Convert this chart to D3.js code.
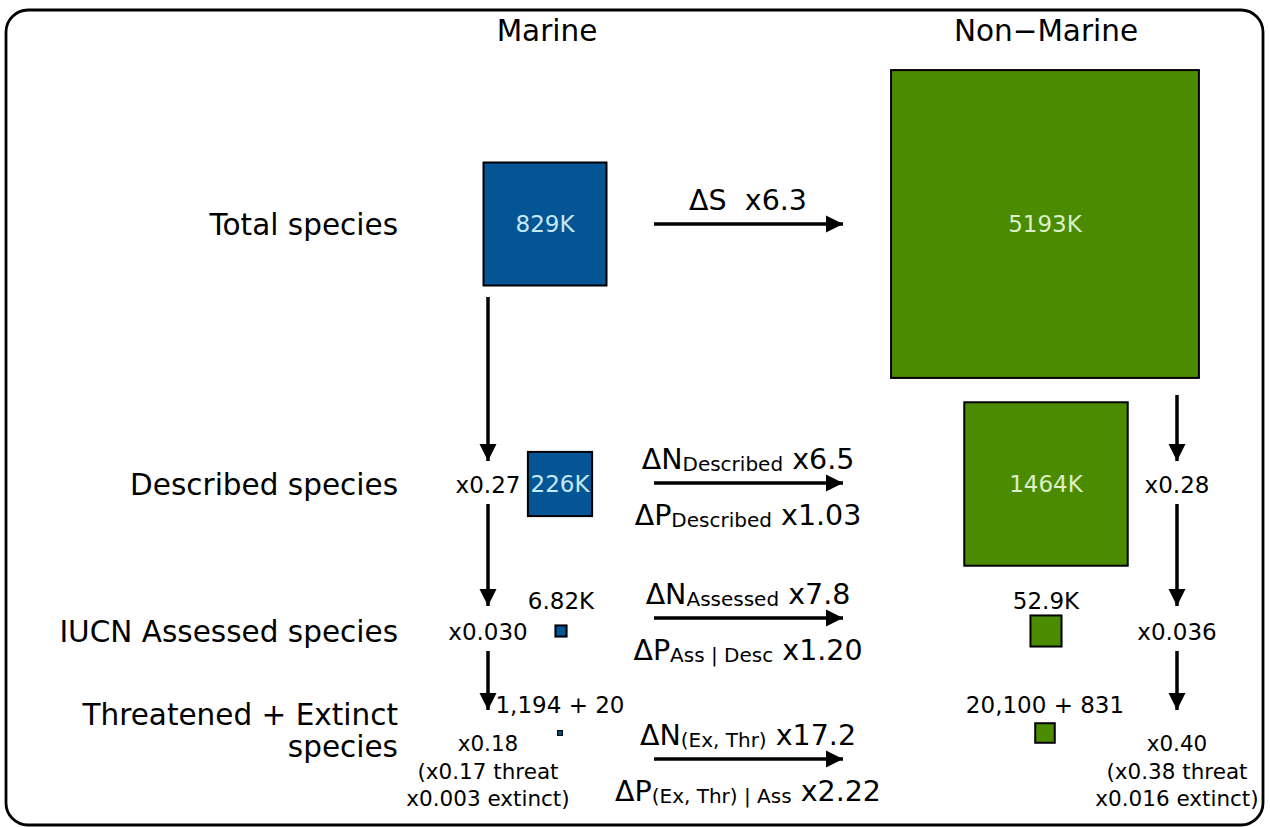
<!DOCTYPE html>
<html lang="en">
<head>
  <meta charset="UTF-8">
  <title>Marine vs Non-Marine species</title>
  <script src="https://cdn.jsdelivr.net/npm/d3@7"></script>
  <style>
    body { margin: 0; background: #fff; }
    text { font-family: "DejaVu Sans", sans-serif; }
  </style>
</head>
<body>
<svg></svg>
<script>
  const width = 1270, height = 827

  // data
  const columns = ['Marine', 'Non\u2212Marine']
  const rows = ['Total species', 'Described species', 'IUCN Assessed species', 'Threatened + Extinct|species']
  const marineCounts = [829000, 226000, 6820, 1214]
  const nonMarineCounts = [5193000, 1464000, 52900, 20931]
  const marineLabels = ['829K', '226K', '6.82K', '1,194 + 20']
  const nonMarineLabels = ['5193K', '1464K', '52.9K', '20,100 + 831']
  const marineRatios = [['x0.27'], ['x0.030'], ['x0.18', '(x0.17 threat', 'x0.003 extinct)']]
  const nonMarineRatios = [['x0.28'], ['x0.036'], ['x0.40', '(x0.38 threat', 'x0.016 extinct)']]
  // horizontal arrow labels: [main, subscript, factor]
  const deltaTop = [['\u0394S', '', ' x6.3'], ['\u0394N', 'Described', ' x6.5'], ['\u0394N', 'Assessed', ' x7.8'], ['\u0394N', '(Ex, Thr)', ' x17.2']]
  const deltaBottom = [null, ['\u0394P', 'Described', ' x1.03'], ['\u0394P', 'Ass | Desc', ' x1.20'], ['\u0394P', '(Ex, Thr) | Ass', ' x2.22']]

  const colors = {Marine: '#035594', NonMarine: '#4b8b00'}
  const textColors = {Marine: '#c6e8f8', NonMarine: '#dcefc8'}

  const svg = d3.select('svg')
      .attr('width', width)
      .attr('height', height)
      .attr('viewBox', [0, 0, width, height])

  svg.append('defs').append('marker')
      .attr('id', 'head')
      .attr('viewBox', '0 0 10 10')
      .attr('refX', 10).attr('refY', 5)
      .attr('markerUnits', 'userSpaceOnUse')
      .attr('markerWidth', 17).attr('markerHeight', 18)
      .attr('orient', 'auto')
    .append('path')
      .attr('d', 'M0,0L10,5L0,10Z')
      .attr('fill', '#000')

  // rounded frame
  svg.append('rect')
      .attr('x', 6).attr('y', 10)
      .attr('width', 1257).attr('height', 815)
      .attr('rx', 22)
      .attr('fill', 'none')
      .attr('stroke', '#000')
      .attr('stroke-width', 2.8)

  // row centres and column centres
  const y = d3.scaleOrdinal().domain(rows).range([224, 484, 631, 733])
  const xMarine = d3.scaleOrdinal().domain(rows).range([545, 560, 561, 560])
  const xNonMarine = d3.scaleOrdinal().domain(rows).range([1045, 1046, 1046, 1045])
  const side = d3.scaleSqrt().domain([0, 829000]).range([0, 123])

  // column titles
  svg.selectAll('.col')
    .data(columns)
    .join('text')
      .attr('x', (d, i) => i === 0 ? 547 : 1046)
      .attr('y', 41)
      .attr('text-anchor', 'middle')
      .attr('font-size', 29.5)
      .text(d => d)

  // row labels
  rows.forEach(r => {
    const lines = r.split('|')
    const t = svg.append('text')
        .attr('text-anchor', 'end')
        .attr('font-size', 29.5)
    lines.forEach((l, j) => {
      t.append('tspan')
          .attr('x', 398)
          .attr('y', lines.length > 1 ? 725 + j * 32 : y(r) + 11)
          .text(l)
    })
  })

  function drawColumn(counts, labels, xs, key) {
    const g = svg.append('g')
    rows.forEach((r, i) => {
      const s = side(counts[i])
      g.append('rect')
          .attr('x', xs(r) - s / 2)
          .attr('y', y(r) - s / 2)
          .attr('width', s)
          .attr('height', s)
          .attr('fill', colors[key])
          .attr('stroke', '#000')
          .attr('stroke-width', s > 8 ? 2 : 1.2)
      const inside = s > 60
      g.append('text')
          .attr('x', xs(r))
          .attr('y', inside ? y(r) + 8 : (i === 3 ? 713 : y(r) - 22))
          .attr('text-anchor', 'middle')
          .attr('font-size', 23)
          .attr('fill', inside ? textColors[key] : '#000')
          .text(labels[i])
    })
  }
  drawColumn(marineCounts, marineLabels, xMarine, 'Marine')
  drawColumn(nonMarineCounts, nonMarineLabels, xNonMarine, 'NonMarine')

  // vertical arrows with ratio labels
  function drawRatios(ratios, ax, firstStart) {
    ratios.forEach((lines, i) => {
      const r = rows[i + 1]
      const start = i === 0 ? firstStart : y(rows[i]) + 20
      const end = i === 1 ? y(r) - 25 : y(r) - 23
      svg.append('line')
          .attr('x1', ax).attr('x2', ax)
          .attr('y1', start).attr('y2', end)
          .attr('stroke', '#000')
          .attr('stroke-width', 3.5)
          .attr('marker-end', 'url(#head)')
      const t = svg.append('text')
          .attr('text-anchor', 'middle')
          .attr('font-size', lines.length > 1 ? 21.5 : 23)
      lines.forEach((l, j) => {
        t.append('tspan')
            .attr('x', ax)
            .attr('y', lines.length > 1 ? 751 + j * 27.5 : y(r) + 9)
            .text(l)
      })
    })
  }
  drawRatios(marineRatios, 488, 297)
  drawRatios(nonMarineRatios, 1177, 395)

  // horizontal arrows
  const ax0 = 654, ax1 = 843, labelX = 748
  const arrowY = [224, 483, 618, 759]
  function deltaText(d, baseline) {
    const t = svg.append('text')
        .attr('x', labelX)
        .attr('y', baseline)
        .attr('text-anchor', 'middle')
        .attr('font-size', 28.5)
    t.append('tspan').text(d[0])
    if (d[1]) t.append('tspan').attr('font-size', 20).attr('dy', 2).text(d[1])
    t.append('tspan').attr('dy', d[1] ? -2 : 0).text(d[1] ? d[2] : '\u00a0' + d[2])
  }
  rows.forEach((r, i) => {
    svg.append('line')
        .attr('x1', ax0).attr('x2', ax1)
        .attr('y1', arrowY[i]).attr('y2', arrowY[i])
        .attr('stroke', '#000')
        .attr('stroke-width', 3.5)
        .attr('marker-end', 'url(#head)')
    deltaText(deltaTop[i], i === 0 ? 210 : arrowY[i] - 14)
    if (deltaBottom[i]) deltaText(deltaBottom[i], arrowY[i] + 42)
  })
</script>
</body>
</html>
